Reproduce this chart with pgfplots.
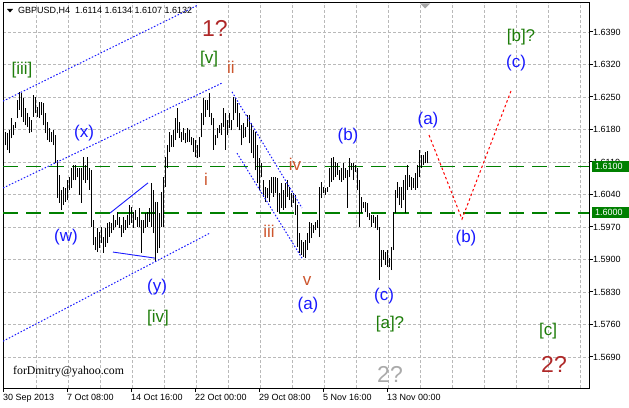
\documentclass[border=0pt]{standalone}
\usepackage{fontspec}
\setmainfont{Liberation Sans}
\newfontfamily\mailfont{Liberation Serif}
\newfontfamily\symfont{DejaVu Sans}
\usepackage{pgfplots}
\pgfplotsset{compat=1.18}
\usepackage{pgfplotstable}

\definecolor{mtgreen}{RGB}{0,128,0}
\definecolor{wavegreen}{RGB}{30,125,10}
\definecolor{waveblue}{RGB}{25,25,255}
\definecolor{wavered}{RGB}{175,40,40}
\definecolor{waveorange}{RGB}{205,85,45}
\definecolor{gridgray}{RGB}{185,185,185}
\definecolor{wavegray}{RGB}{170,170,170}

\newcommand\smallfont{\fontsize{9}{10.8}\selectfont}
\newcommand\wavefont{\fontsize{17}{20}\selectfont}
\newcommand\degreefont{\fontsize{23}{27}\selectfont}

% GBPUSD H4 bars: bar index, high, low
\pgfplotstableread{
i hi lo
1 1.6174 1.6146
2 1.6172 1.6136
3 1.6178 1.6129
4 1.6204 1.6161
5 1.6189 1.6168
6 1.6196 1.6183
7 1.6244 1.6204
8 1.6261 1.6222
9 1.6258 1.6207
10 1.6248 1.6196
11 1.6226 1.6189
12 1.6215 1.6185
13 1.6207 1.6172
14 1.6200 1.6174
15 1.6254 1.6207
16 1.6250 1.6215
17 1.6228 1.6207
18 1.6239 1.6204
19 1.6239 1.6211
20 1.6237 1.6189
21 1.6215 1.6172
22 1.6196 1.6157
23 1.6183 1.6153
24 1.6174 1.6153
25 1.6178 1.6146
26 1.6168 1.6107
27 1.6114 1.6032
28 1.6082 1.6022
29 1.6050 1.6007
30 1.6056 1.6017
31 1.6054 1.6024
32 1.6071 1.6028
33 1.6077 1.6050
34 1.6096 1.6054
35 1.6103 1.6071
36 1.6103 1.6071
37 1.6098 1.6077
38 1.6096 1.6039
39 1.6098 1.6022
40 1.6120 1.6071
41 1.6103 1.6065
42 1.6120 1.6071
43 1.6096 1.6050
44 1.6092 1.5970
45 1.5985 1.5931
46 1.5948 1.5920
47 1.5968 1.5916
48 1.5959 1.5925
49 1.5970 1.5935
50 1.5948 1.5914
51 1.5968 1.5927
52 1.5979 1.5935
53 1.5981 1.5948
54 1.5979 1.5957
55 1.5996 1.5963
56 1.5985 1.5970
57 1.6002 1.5974
58 1.5991 1.5968
59 1.5974 1.5948
60 1.5991 1.5957
61 1.5985 1.5963
62 1.5996 1.5968
63 1.6017 1.5974
64 1.6013 1.5979
65 1.6002 1.5968
66 1.6007 1.5985
67 1.5991 1.5970
68 1.6011 1.5970
69 1.5985 1.5914
70 1.5985 1.5957
71 1.6000 1.5968
72 1.6002 1.5970
73 1.6011 1.5981
74 1.6065 1.5970
75 1.6050 1.5957
76 1.6024 1.5897
77 1.6024 1.5914
78 1.6000 1.5925
79 1.6045 1.5970
80 1.6077 1.5970
81 1.6120 1.6056
82 1.6146 1.6096
83 1.6174 1.6131
84 1.6168 1.6142
85 1.6178 1.6142
86 1.6204 1.6157
87 1.6226 1.6172
88 1.6196 1.6161
89 1.6174 1.6153
90 1.6183 1.6157
91 1.6172 1.6150
92 1.6183 1.6153
93 1.6178 1.6153
94 1.6163 1.6146
95 1.6161 1.6131
96 1.6157 1.6120
97 1.6146 1.6118
98 1.6163 1.6120
99 1.6215 1.6163
100 1.6248 1.6189
101 1.6244 1.6207
102 1.6244 1.6222
103 1.6258 1.6207
104 1.6215 1.6189
105 1.6204 1.6136
106 1.6168 1.6146
107 1.6183 1.6161
108 1.6189 1.6172
109 1.6194 1.6168
110 1.6226 1.6185
111 1.6215 1.6136
112 1.6200 1.6168
113 1.6215 1.6183
114 1.6200 1.6178
115 1.6250 1.6200
116 1.6248 1.6215
117 1.6237 1.6185
118 1.6215 1.6178
119 1.6189 1.6146
120 1.6194 1.6161
121 1.6185 1.6163
122 1.6211 1.6185
123 1.6211 1.6150
124 1.6194 1.6129
125 1.6178 1.6118
126 1.6174 1.6092
127 1.6146 1.6065
128 1.6118 1.6050
129 1.6107 1.6077
130 1.6071 1.6035
131 1.6056 1.6024
132 1.6054 1.6032
133 1.6071 1.6024
134 1.6077 1.6043
135 1.6077 1.6035
136 1.6077 1.6043
137 1.6075 1.6002
138 1.6043 1.6000
139 1.6065 1.6011
140 1.6050 1.6007
141 1.6065 1.6011
142 1.6071 1.6035
143 1.6056 1.6028
144 1.6043 1.6013
145 1.6043 1.6022
146 1.6039 1.5996
147 1.6017 1.5927
148 1.5957 1.5914
149 1.5942 1.5910
150 1.5938 1.5905
151 1.5942 1.5903
152 1.5957 1.5920
153 1.5981 1.5935
154 1.5979 1.5946
155 1.5974 1.5957
156 1.5981 1.5963
157 1.5985 1.5968
158 1.6056 1.5948
159 1.6067 1.6032
160 1.6056 1.6043
161 1.6054 1.6039
162 1.6056 1.6045
163 1.6096 1.6056
164 1.6118 1.6067
165 1.6120 1.6071
166 1.6109 1.6077
167 1.6107 1.6082
168 1.6092 1.6071
169 1.6098 1.6067
170 1.6107 1.6071
171 1.6096 1.6075
172 1.6092 1.6011
173 1.6118 1.6077
174 1.6107 1.6092
175 1.6107 1.6071
176 1.6103 1.6088
177 1.6098 1.6050
178 1.6071 1.5970
179 1.6035 1.6000
180 1.6024 1.6011
181 1.6024 1.6002
182 1.6022 1.5991
183 1.6000 1.5985
184 1.5996 1.5970
185 1.5996 1.5979
186 1.5991 1.5968
187 1.5996 1.5963
188 1.5970 1.5856
189 1.5920 1.5884
190 1.5920 1.5899
191 1.5916 1.5888
192 1.5920 1.5884
193 1.5903 1.5884
194 1.5927 1.5877
195 1.6002 1.5920
196 1.6050 1.6000
197 1.6067 1.6032
198 1.6056 1.6017
199 1.6056 1.6011
200 1.6071 1.6028
201 1.6082 1.6000
202 1.6103 1.6050
203 1.6082 1.6056
204 1.6077 1.6050
205 1.6075 1.6054
206 1.6086 1.6050
207 1.6103 1.6054
208 1.6136 1.6077
209 1.6125 1.6098
210 1.6125 1.6103
211 1.6131 1.6107
212 1.6134 1.6107
}\hlbars

\begin{document}
\begin{tikzpicture}
\path[use as bounding box, fill=white] (0,0) rectangle (629pt,407pt);
\begin{axis}[
  at={(3pt,19pt)}, anchor=south west,
  width=586pt, height=385pt, scale only axis,
  xmin=0, xmax=293, ymin=1.562323, ymax=1.645246,
  axis line style={black, line width=1pt},
  xtick={0,32,64,96,128,160,192},
  xticklabels={30 Sep 2013, 7 Oct 08:00, 14 Oct 16:00, 22 Oct 00:00, 29 Oct 08:00, 5 Nov 16:00, 13 Nov 00:00},
  minor xtick={16.5,32.5,...,288.5},
  ytick={1.569,1.576,1.583,1.590,1.597,1.604,1.611,1.618,1.625,1.632,1.639},
  xtick pos=left, ytick pos=right, yticklabel pos=right,
  tick align=outside, major tick length=4pt, minor tick length=0pt,
  major tick style={black, line width=1pt},
  xminorgrids=true, xmajorgrids=false, ymajorgrids=true,
  grid style={gridgray, dash pattern=on 3pt off 2pt, line width=0.8pt},
  minor grid style={gridgray, dash pattern=on 3pt off 2pt, line width=0.8pt},
  scaled y ticks=false,
  tick label style={font=\smallfont},
  /pgf/number format/assume math mode=true,
  yticklabel style={/pgf/number format/.cd, fixed, fixed zerofill, precision=4, /tikz/.cd, anchor=west, inner sep=0pt},
  xticklabel style={anchor=north west, inner sep=0pt, yshift=-2pt},
]
% support / resistance levels
\addplot[mtgreen, line width=1.2pt, dash pattern=on 15pt off 8pt] coordinates {(0,1.6100) (293,1.6100)};
\addplot[mtgreen, line width=1.2pt, dash pattern=on 15pt off 8pt] coordinates {(0,1.6000) (293,1.6000)};

% high-low bars
\addplot[draw=none, mark=none, forget plot,
  error bars/.cd, y dir=plus, y explicit, error mark=none,
  error bar style={draw=black, solid, line width=1pt}]
  table[x=i, y=lo, y error plus expr=\thisrow{hi}-\thisrow{lo}] {\hlbars};

% trend channel
\addplot[waveblue, line width=1pt, dash pattern=on 1.5pt off 1.8pt] coordinates {(0,1.6241) (97,1.6447)};
\addplot[waveblue, line width=1pt, dash pattern=on 1.5pt off 1.8pt] coordinates {(0,1.6054) (109.5,1.6280)};
\addplot[waveblue, line width=1pt, dash pattern=on 1.5pt off 1.8pt] coordinates {(0,1.5724) (103.5,1.5957)};
% triangle (y)
\addplot[waveblue, line width=0.9pt] coordinates {(53.5,1.6000) (72.5,1.6065)};
\addplot[waveblue, line width=0.9pt] coordinates {(55,1.5916) (76,1.5903)};
% wedge ii - v
\addplot[waveblue, line width=1pt, dash pattern=on 1.5pt off 1.8pt] coordinates {(114.5,1.6261) (149.5,1.6011)};
\addplot[waveblue, line width=1pt, dash pattern=on 1.5pt off 1.8pt] coordinates {(117,1.6129) (149.5,1.5903)};
% projected path
\addplot[red, line width=1pt, dash pattern=on 2.5pt off 2.5pt] coordinates {(213,1.6168) (229.5,1.5987) (254,1.6263)};
\end{axis}

\begin{scope}[x=1pt, y=-1pt, shift={(0pt,407pt)}]
% header
\fill[black] (7,9) -- (13,9) -- (10,12.5) -- cycle;
\node[anchor=base west, inner sep=0pt, font=\smallfont] at (18,14) {GBPUSD,H4\hspace{5pt}1.6114 1.6134 1.6107 1.6132};
\fill[gray!70] (420,3.5) -- (430,3.5) -- (425,8.5) -- cycle;
% price boxes
\fill[mtgreen] (592,161) rectangle (629,172.3);
\node[anchor=west, inner sep=0pt, font=\smallfont, text=white] at (595,166.6) {1.6100};
\fill[mtgreen] (592,207) rectangle (629,218);
\node[anchor=west, inner sep=0pt, font=\smallfont, text=white] at (595,212.6) {1.6000};
% wave labels
\begin{scope}[every node/.style={inner sep=0pt, anchor=center}]
\node[font=\wavefont, text=wavegreen] at (22,70) {[iii]};
\node[font=\degreefont, text=wavered] at (215,28) {1?};
\node[font=\wavefont, text=wavegreen] at (209,59) {[v]};
\node[font=\wavefont, text=waveorange] at (231,67) {ii};
\node[font=\wavefont, text=waveblue] at (84,133) {(x)};
\node[font=\wavefont, text=waveblue] at (66,237) {(w)};
\node[font=\wavefont, text=waveblue] at (157,287) {(y)};
\node[font=\wavefont, text=wavegreen] at (158,318) {[iv]};
\node[font=\wavefont, text=waveorange] at (206,179) {i};
\node[font=\wavefont, text=waveorange] at (269,231) {iii};
\node[font=\wavefont, text=waveorange] at (295,164) {iv};
\node[font=\wavefont, text=waveorange] at (307,281) {v};
\node[font=\wavefont, text=waveblue] at (308,305) {(a)};
\node[font=\wavefont, text=waveblue] at (348,136) {(b)};
\node[font=\wavefont, text=waveblue] at (384,296) {(c)};
\node[font=\wavefont, text=wavegreen] at (390,324) {[a]?};
\node[font=\degreefont, text=wavegray] at (390,374) {2?};
\node[font=\wavefont, text=waveblue] at (428,120) {(a)};
\node[font=\wavefont, text=waveblue] at (466,238) {(b)};
\node[font=\wavefont, text=waveblue] at (516,63) {(c)};
\node[font=\wavefont, text=wavegreen] at (521,37) {[b]?};
\node[font=\wavefont, text=wavegreen] at (548,331) {[c]};
\node[font=\degreefont, text=wavered] at (554,364) {2?};
\end{scope}
\node[anchor=base west, inner sep=0pt, font=\mailfont\fontsize{11.8}{14}\selectfont] at (13,374.5) {forDmitry@yahoo.com};
\end{scope}
\end{tikzpicture}
\end{document}
